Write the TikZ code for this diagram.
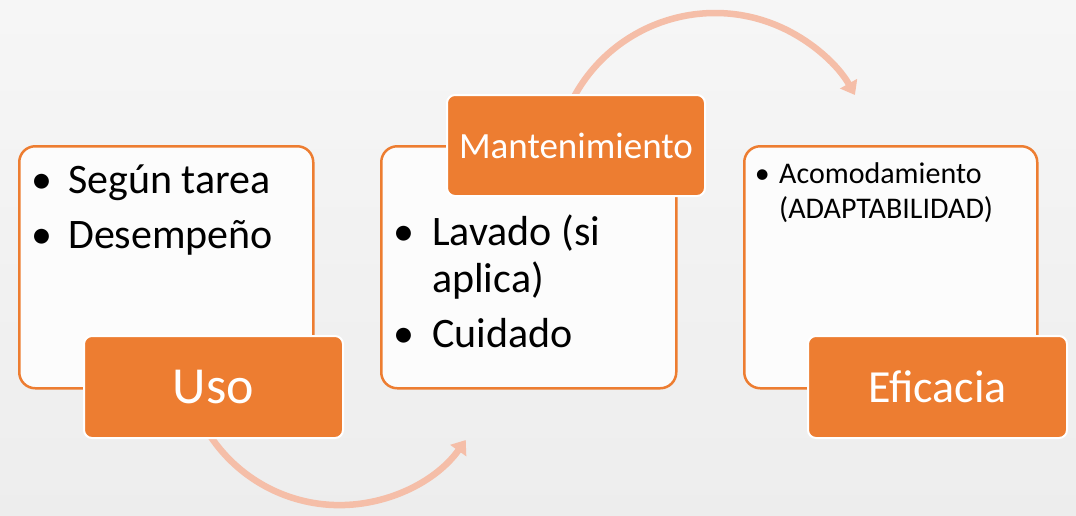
\documentclass[tikz,border=0pt]{standalone}
\usepackage{fontspec}
\setmainfont{Carlito}
\usetikzlibrary{arrows.meta}
\definecolor{orng}{RGB}{237,125,49}
\definecolor{arcc}{RGB}{245,190,168}
\begin{document}
\begin{tikzpicture}[x=1pt,y=-1pt,
  card/.style={draw=orng, line width=2.5pt, fill=white!98!gray, rounded corners=16pt, inner sep=0pt, anchor=north west},
  tag/.style={draw=white, line width=2pt, fill=orng, rounded corners=8pt, text=white, inner sep=0pt},
  flow/.style={draw=arcc, line width=6.5pt, -{Triangle[width=19pt,length=13pt]}},
  body/.style={anchor=base west, inner sep=0pt, font=\fontsize{42}{50}\selectfont},
  small/.style={anchor=base west, inner sep=0pt, font=\fontsize{30}{36}\selectfont}]
\useasboundingbox (0,0) rectangle (1076,515);
\shade[top color=gray!7, middle color=gray!15, bottom color=gray!14] (0,0) rectangle (1076,515);
% arrows
\coordinate (a1s) at (205,427.5);
\coordinate (a2s) at (569.5,105.7);
\draw[flow] (a1s) arc[start angle=150, end angle=35.5, radius=155.2];
\draw[flow] (a2s) arc[start angle=-155, end angle=-29.3, radius=160.5];
% cards
\node[card, minimum width=294pt, minimum height=242pt] (c1) at (18,145) {};
\node[card, minimum width=295pt, minimum height=242pt] (c2) at (380,145) {};
\node[card, minimum width=293pt, minimum height=242pt] (c3) at (743,145) {};
% tags
\node[tag, minimum width=259pt, minimum height=102pt] (uso) at (213.5,387) {\fontsize{52}{60}\selectfont Uso};
\node[tag, minimum width=258pt, minimum height=101pt] (man) at (576,145.5) {\fontsize{37}{44}\selectfont Mantenimiento};
\node[tag, minimum width=259pt, minimum height=102pt] (efi) at (937.5,387) {\fontsize{46}{54}\selectfont Eficacia};
% texts
\node[body] (t11) at (68,193) {\llap{•\hspace{15.5pt}}Según tarea};
\node[body] (t12) at (68,248) {\llap{•\hspace{15.5pt}}Desempeño};
\node[body] (t21) at (432,245) {\llap{•\hspace{17.5pt}}Lavado (si};
\node[body] (t22) at (432,292) {aplica)};
\node[body] (t23) at (432,347) {\llap{•\hspace{17.5pt}}Cuidado};
\node[small] (t31) at (779,183) {\llap{•\hspace{9.5pt}}Acomodamiento};
\node[small] (t32) at (779,218) {(ADAPTABILIDAD)};
\end{tikzpicture}
\end{document}
